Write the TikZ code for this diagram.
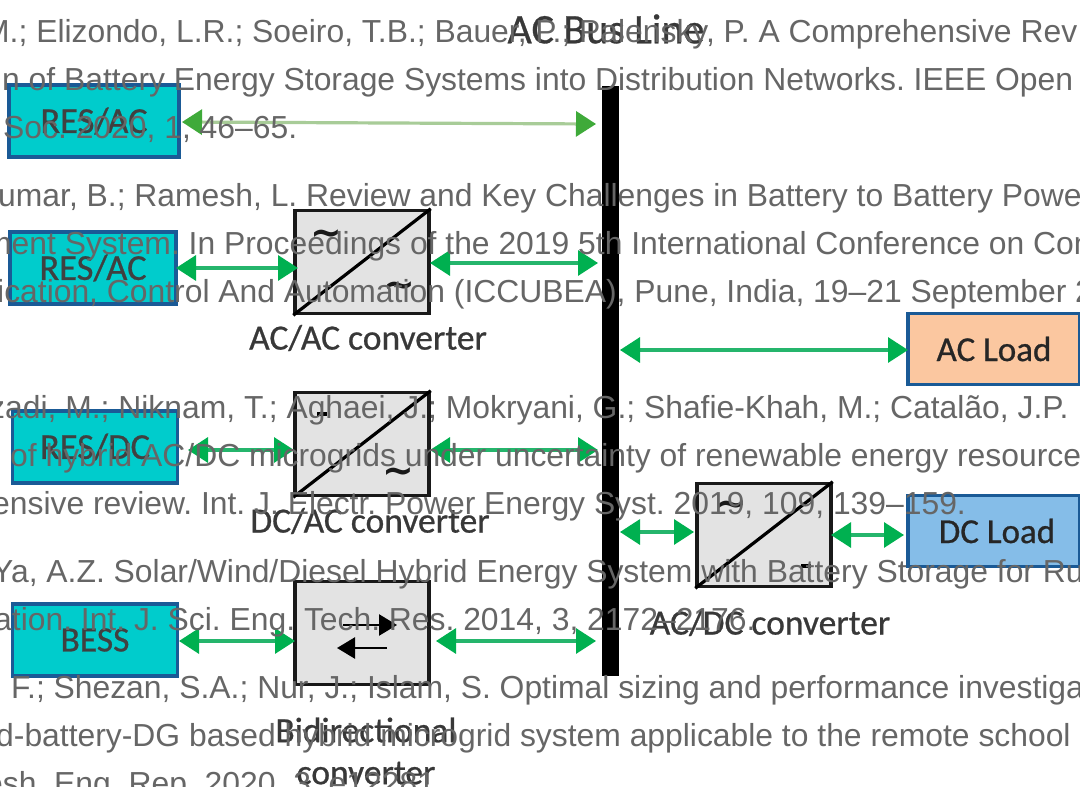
\documentclass[tikz,border=0pt]{standalone}
\usepackage{fontspec}
\setmainfont{Liberation Sans}
\newfontfamily\diagfont[RawFeature={embolden=0.7}]{Carlito}
\newfontfamily\tildefont{DejaVu Sans Bold}
\usetikzlibrary{arrows.meta}
\definecolor{refgray}{HTML}{666666}
\definecolor{flow}{HTML}{00B050}
\definecolor{flowline}{HTML}{25B56C}
\definecolor{flowpale}{HTML}{3FAA3A}
\definecolor{paleline}{HTML}{A8CC98}
\definecolor{srcfill}{HTML}{00CCCC}
\definecolor{edgeblue}{HTML}{1A5A96}
\definecolor{acfill}{HTML}{FBC7A0}
\definecolor{dcfill}{HTML}{85BDE8}
\definecolor{convfill}{HTML}{E3E3E3}
\tikzset{
  x=1pt,y=-1pt,
  srcbox/.style={draw=edgeblue,line width=3.2pt,fill=srcfill,minimum width=170pt,minimum height=72pt,inner sep=0pt,font=\diagfont\fontsize{36.5}{38}\selectfont,text=black!75},
  loadbox/.style={draw=edgeblue,line width=3.2pt,minimum width=172pt,minimum height=71pt,inner sep=0pt,font=\diagfont\fontsize{35}{37}\selectfont,text=black!85},
  convbox/.style={draw=black!90,line width=3.5pt,fill=convfill,minimum width=134pt,minimum height=103pt,inner sep=0pt},
  flowarrow/.style={draw=flowline,line width=3.2pt,{Triangle[length=20pt,width=25pt,color=flow]}-{Triangle[length=20pt,width=25pt,color=flow]}},
  palearrow/.style={draw=paleline,line width=3.2pt,{Triangle[length=20pt,width=25pt,color=flowpale]}-{Triangle[length=20pt,width=25pt,color=flowpale]}},
  conv/.style={black,line width=3.2pt},
  label/.style={font=\diagfont\fontsize{35.5}{37}\selectfont,text=black!78,inner sep=0pt},
  ref/.style={anchor=base west,inner sep=0pt,text=refgray,font=\frenchspacing\fontsize{31.85}{34}\selectfont},
  tilde/.style={font=\tildefont\fontsize{38}{38}\selectfont,inner sep=0pt,text=black!90}
}
\begin{document}
\begin{tikzpicture}
\useasboundingbox (0,0) rectangle (1080,787);
\clip (0,0) rectangle (1080,787);
\fill[white] (0,0) rectangle (1080,787);
\node[label,font=\diagfont\fontsize{42}{44}\selectfont] (title) at (606,29) {AC Bus Line};
\node[fill=black,minimum width=17pt,minimum height=590pt,inner sep=0pt] (bus) at (610,381) {};
\node[srcbox] (r1) at (94,121) {RES/AC};
\node[srcbox,minimum width=166pt] (r2) at (93,268) {RES/AC};
\node[srcbox,minimum width=165pt] (r3) at (95,447) {RES/DC};
\node[srcbox,minimum width=165pt,font=\diagfont\fontsize{35.5}{37}\selectfont] (r4) at (95,640) {BESS};
\node[convbox] (c1) at (362,262) {};
\node[convbox] (c2) at (362,444) {};
\node[convbox] (c3) at (362,633) {};
\node[convbox] (c4) at (764,535) {};
\node[loadbox,fill=acfill] (acl) at (994,349) {AC Load};
\node[loadbox,fill=dcfill] (dcl) at (994,531) {\hspace*{6pt}DC Load};
\node[label] (l1) at (368,338) {AC/AC converter};
\node[label] (l2) at (370,521) {DC/AC converter};
\node[label,align=center] (l3) at (366,751) {Bidirectional\\[5pt]converter};
\node[label] (l4) at (770,623) {AC/DC converter};
% diagonals
\foreach \c in {c1,c2,c4}{\draw[conv] (\c.south west) -- (\c.north east);}
\node[tilde] (t1a) at (326,238) {\char"007E};
\node[tilde] (t1b) at (399,290) {\char"007E};
\node[tilde] (t2b) at (398,476) {\char"007E};
\node[tilde] (t4a) at (731,509) {\char"007E};
\node[inner sep=0pt] (m2a) at (322,414) {\rule{10pt}{4pt}};
\node[inner sep=0pt] (m4b) at (806,566) {\rule{10pt}{4pt}};
\coordinate (ba1) at (343,625);\coordinate (ba2) at (397,625);
\coordinate (bb1) at (387,648);\coordinate (bb2) at (337,648);
\draw[black,line width=2.5pt,-{Triangle[length=18pt,width=21pt]}] (ba1) -- (ba2);
\draw[black,line width=2.5pt,-{Triangle[length=18pt,width=21pt]}] (bb1) -- (bb2);
% connectors
\coordinate (a1L) at (182,122);\coordinate (a1R) at (596,124);
\coordinate (a2L) at (176,268);\coordinate (a2R) at (298,268);
\coordinate (a3L) at (430,263);\coordinate (a3R) at (598,263);
\coordinate (a4L) at (620,350);\coordinate (a4R) at (908,350);
\coordinate (a5L) at (188,450);\coordinate (a5R) at (294,450);
\coordinate (a6L) at (430,450);\coordinate (a6R) at (598,450);
\coordinate (a7L) at (620,532);\coordinate (a7R) at (694,532);
\coordinate (a8L) at (831,535);\coordinate (a8R) at (904,535);
\coordinate (a9L) at (179,641);\coordinate (a9R) at (295,641);
\coordinate (a10L) at (436,641);\coordinate (a10R) at (596,641);
\draw[palearrow] (a1L) -- (a1R);
\foreach \p/\q in {a2L/a2R,a3L/a3R,a4L/a4R,a5L/a5R,a6L/a6R,a7L/a7R,a8L/a8R,a9L/a9R,a10L/a10R}{\draw[flowarrow] (\p) -- (\q);}
% overlaid reference text
\node[ref] (t01) at (-17,42) {M.; Elizondo, L.R.; Soeiro, T.B.; Bauer, P.; Palensky, P. A Comprehensive Rev};
\node[ref] (t02) at (2,90) {n of Battery Energy Storage Systems into Distribution Networks. IEEE Open};
\node[ref] (t03) at (3,138) {Soc. 2020, 1, 46–65.};
\node[ref] (t04) at (-2,206) {umar, B.; Ramesh, L. Review and Key Challenges in Battery to Battery Powe};
\node[ref] (t05) at (-15,254) {ment System. In Proceedings of the 2019 5th International Conference on Con};
\node[ref] (t06) at (-3,302) {ication, Control And Automation (ICCUBEA), Pune, India, 19–21 September 2};
\node[ref] (t07) at (-11,418) {zadi, M.; Niknam, T.; Aghaei, J.; Mokryani, G.; Shafie-Khah, M.; Catalão, J.P.};
\node[ref] (t08) at (10,466) {of hybrid AC/DC microgrids under uncertainty of renewable energy resource};
\node[ref] (t09) at (-8,514) {ensive review. Int. J. Electr. Power Energy Syst. 2019, 109, 139–159.};
\node[ref] (t10) at (-8,582) {Ya, A.Z. Solar/Wind/Diesel Hybrid Energy System with Battery Storage for Ru};
\node[ref] (t11) at (-6,630) {ation. Int. J. Sci. Eng. Tech. Res. 2014, 3, 2172–2176.};
\node[ref] (t12) at (11,698) {F.; Shezan, S.A.; Nur, J.; Islam, S. Optimal sizing and performance investiga};
\node[ref] (t13) at (-4,746) {d-battery-DG based hybrid microgrid system applicable to the remote school};
\node[ref] (t14) at (-15,794) {esh. Eng. Rep. 2020, 3, e12281};
\end{tikzpicture}
\end{document}
